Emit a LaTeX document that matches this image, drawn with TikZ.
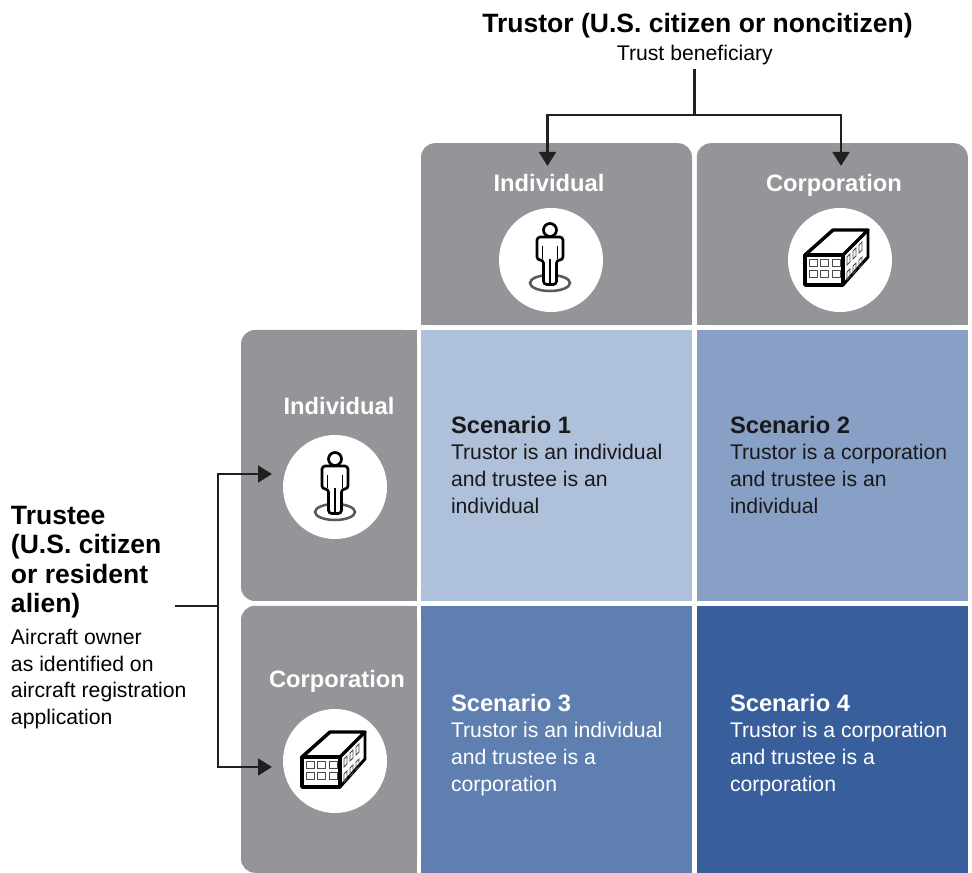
\documentclass[tikz,border=0pt]{standalone}
\usepackage{fontspec}
\setmainfont{Liberation Sans}
\usepackage{xcolor}
\usetikzlibrary{positioning, arrows.meta}

\definecolor{tilegray}{HTML}{939598}
\definecolor{inkdark}{HTML}{231F20}
\definecolor{blueone}{HTML}{AFC0DB}
\definecolor{bluetwo}{HTML}{88A0C5}
\definecolor{bluethree}{HTML}{5F7FB1}
\definecolor{bluefour}{HTML}{385F9C}

\begin{document}
\begin{tikzpicture}[
    x=0.75pt, y=-0.75pt,
    node distance=3.6pt,
    every node/.style={inner sep=0pt, outer sep=0pt},
    cell/.style={minimum width=203.25pt, minimum height=203.25pt},
    lowcell/.style={minimum width=203.25pt, minimum height=200.25pt},
    toptile/.style={minimum width=203.25pt, minimum height=136.5pt},
    sidetile/.style={minimum width=132pt, minimum height=203.25pt},
    lowtile/.style={minimum width=132pt, minimum height=200.25pt},
    tile/.style={fill=tilegray, rounded corners=10.5pt},
    tilehead/.style={font=\fontsize{17.8}{20}\selectfont\bfseries, text=white, anchor=base},
    badge/.style={circle, fill=white, minimum size=78pt},
    heading/.style={font=\fontsize{19.9}{22.1}\selectfont\bfseries, align=left, text=black},
    plain/.style={font=\fontsize{15.9}{20}\selectfont, align=left, text=black},
    scenario/.style={font=\fontsize{15.9}{20.1}\selectfont, align=left, anchor=north west},
    arrow/.style={-{Triangle[length=10.5pt, width=12.5pt]}, line width=2.2pt, draw=inkdark},
    branch/.style={line width=2.2pt, draw=inkdark},
    person/.pic={
        \draw[draw=black!65, line width=1.9pt] (0,24) ellipse (20 and 8);
        \draw[fill=white, line width=2pt, rounded corners=2.4pt] (0,25.5) -- (-6.5,25.5) -- (-6.5,1) -- (-13,1)
            -- (-13,-22) -- (13,-22) -- (13,1) -- (6.5,1) -- (6.5,25.5) -- cycle;
        \draw[line width=1.3pt] (0,0) -- (0,25);
        \draw[line width=.5pt] (-7.5,-13) -- (-7.5,0) (7.5,-13) -- (7.5,0);
        \draw[fill=white, line width=2pt] (0,-29) circle (6.5);
    },
    building/.pic={
        \draw[line width=.5pt, fill=white] (3,-5) -- (28,-30) -- (28,-3) -- (3,25) -- cycle;
        \draw[line width=2.6pt, line join=round] (-35,-5) -- (-7,-30) -- (28,-30) -- (3,-5) -- cycle;
        \draw[line width=2.6pt, line join=round] (-35,-5) rectangle (3,25);
        \draw[line width=2.2pt, line join=round] (3,25) -- (28,-3) -- (28,-30);
        \foreach \wx in {-31,-20,-8} \foreach \wy in {-1,10}
            \draw[line width=.7pt, draw=black!70] (\wx,\wy) rectangle ++(8,7);
        \foreach \wx/\wy in {7/-3,13/-9,19/-15} {
            \draw[line width=.6pt, draw=black!70] (\wx,\wy) -- ++(3,-3) -- ++(0,8) -- ++(-3,3) -- cycle;
            \draw[line width=.6pt, draw=black!70] (\wx,\wy+15) -- ++(3,-3) -- ++(0,8) -- ++(-3,3) -- cycle;
        }
    }
]

\clip (0,0) rectangle (972,873);
\useasboundingbox (0,0) rectangle (972,873);

% scenario cells
\node[cell, fill=blueone] (s1) at (556.5,465.5) {};
\node[cell, fill=bluetwo, right=of s1] (s2) {};
\node[lowcell, fill=bluethree, below=of s1] (s3) {};
\node[lowcell, fill=bluefour, right=of s3] (s4) {};

% tiles around the cells
\node[toptile, above=of s1] (t1) {};
\node[toptile, above=of s2] (t2) {};
\node[sidetile, left=3pt of s1] (l1) {};
\node[lowtile, anchor=north east] (l2) at ([xshift=-3pt]s3.north west) {};

\foreach \t in {t1,t2} {
    \fill[tile] (\t.south west) rectangle (\t.north east);
    \fill[tilegray] (\t.south west) rectangle ([yshift=20pt]\t.south east);
}
\foreach \t in {l1,l2} {
    \fill[tile] (\t.south west) rectangle (\t.north east);
    \fill[tilegray] (\t.north east) rectangle ([xshift=-20pt]\t.south east);
}

% tile contents
\node[tilehead] (t1 head) at (549,192) {Individual};
\node[tilehead] (t2 head) at (834,192) {Corporation};
\node[tilehead] (l1 head) at (339,415) {Individual};
\node[tilehead] (l2 head) at (337,687) {Corporation};

\node[badge] (t1 badge) at (551,260) {};
\node[badge] (t2 badge) at (840,260) {};
\node[badge] (l1 badge) at (335,487) {};
\node[badge] (l2 badge) at (335,761) {};

\pic at (550,259) {person};
\pic at (335,488) {person};
\pic at (840,260) {building};
\pic at (337,762) {building};

% scenario texts
\node[scenario, text=black!90] (s1 text) at (451,416) {\fontsize{17.8}{20.1}\selectfont\bfseries Scenario 1\\Trustor is an individual\\and trustee is an\\individual};
\node[scenario, text=black!90] (s2 text) at (730,416) {\fontsize{17.8}{20.1}\selectfont\bfseries Scenario 2\\Trustor is a corporation\\and trustee is an\\individual};
\node[scenario, text=white] (s3 text) at (451,694) {\fontsize{17.8}{20.1}\selectfont\bfseries Scenario 3\\Trustor is an individual\\and trustee is a\\corporation};
\node[scenario, text=white] (s4 text) at (730,694) {\fontsize{17.8}{20.1}\selectfont\bfseries Scenario 4\\Trustor is a corporation\\and trustee is a\\corporation};

% trustor labels
\node[heading] (trustor) at (697.5,26) {Trustor (U.S. citizen or noncitizen)};
\node[plain, below=9.3pt of trustor.base, xshift=-2pt] (benef) {Trust beneficiary};

% trustee labels
\node[heading, anchor=north west] (trustee) at (11,506) {Trustee\\(U.S. citizen\\or resident\\alien)};
\node[plain, anchor=north west] (owner) at (11,629) {Aircraft owner\\as identified on\\aircraft registration\\application};

% connectors
\coordinate (top join) at (694.5,115);
\coordinate (top tip a) at (547.5,166);
\coordinate (top tip b) at (841,166);
\coordinate (side start) at (175,606);
\coordinate (side join) at (218,606);
\coordinate (side tip a) at (272,474);
\coordinate (side tip b) at (272,767);

\draw[branch, shorten <=3pt] (top join |- benef.south) -- (top join);
\draw[arrow] (top join) -| (top tip a);
\draw[arrow] (top join) -| (top tip b);
\draw[branch] (side start) -- (side join);
\draw[arrow] (side join) |- (side tip a);
\draw[arrow] (side join) |- (side tip b);

\end{tikzpicture}
\end{document}
